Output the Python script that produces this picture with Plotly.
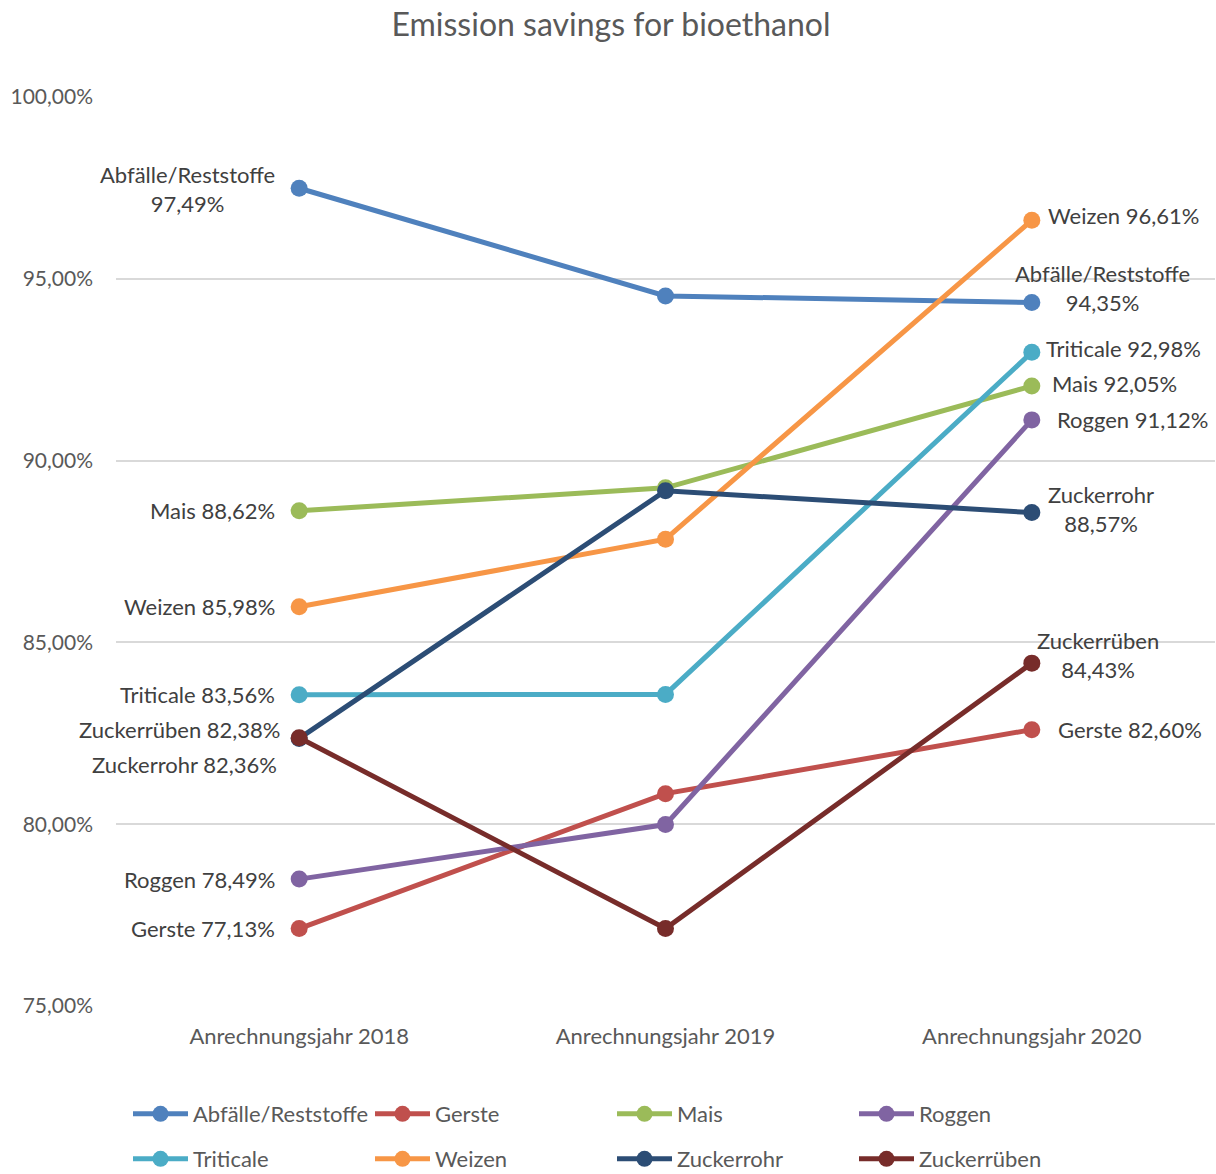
import plotly.graph_objects as go

categories = ["Anrechnungsjahr 2018", "Anrechnungsjahr 2019", "Anrechnungsjahr 2020"]

series_names = ["Abfälle/Reststoffe", "Gerste", "Mais", "Roggen",
                "Triticale", "Weizen", "Zuckerrohr", "Zuckerrüben"]

abfaelle = [97.49, 94.53, 94.35]
gerste = [77.13, 80.84, 82.60]
mais = [88.62, 89.25, 92.05]
roggen = [78.49, 79.99, 91.12]
triticale = [83.56, 83.57, 92.98]
weizen = [85.98, 87.84, 96.61]
zuckerrohr = [82.36, 89.17, 88.57]
zuckerrueben = [82.38, 77.13, 84.43]

y_tickvals = [75, 80, 85, 90, 95, 100]
y_ticktext = ["75,00%", "80,00%", "85,00%", "90,00%", "95,00%", "100,00%"]

values = [abfaelle, gerste, mais, roggen, triticale, weizen, zuckerrohr, zuckerrueben]
colors = ["#4F81BD", "#C0504D", "#9BBB59", "#8064A2",
          "#4BACC6", "#F79646", "#2C4D75", "#772C2A"]

FONT = "Lato, 'Open Sans', sans-serif"


def fmt(v):
    return f"{v:.2f}".replace(".", ",") + "%"


# label placement (style): (two_line, xanchor, xshift, yshift)
left_style = {
    "Abfälle/Reststoffe": (True, "right", -22, -1),
    "Gerste": (False, "right", -22, 0),
    "Mais": (False, "right", -22, 0),
    "Roggen": (False, "right", -22, 0),
    "Triticale": (False, "right", -22, 0),
    "Weizen": (False, "right", -22, 0),
    "Zuckerrohr": (False, "right", -20, -26),
    "Zuckerrüben": (False, "right", -17, 8),
}
right_style = {
    "Abfälle/Reststoffe": (True, "center", 71, 14),
    "Gerste": (False, "left", 24, 0),
    "Mais": (False, "left", 18, 3),
    "Roggen": (False, "left", 23, 0),
    "Triticale": (False, "left", 12, 4),
    "Weizen": (False, "left", 14, 5),
    "Zuckerrohr": (True, "center", 69, 4),
    "Zuckerrüben": (True, "center", 66, 8),
}

fig = go.Figure()
annotations = []
for i, (name, vals, col) in enumerate(zip(series_names, values, colors)):
    fig.add_trace(go.Scatter(
        x=categories, y=vals, name=name, mode="lines+markers",
        line=dict(color=col, width=5),
        marker=dict(color=col, size=17),
        legend="legend" if i < 4 else "legend2",
        cliponaxis=False,
    ))
    for idx, style in ((0, left_style), (2, right_style)):
        two, xa, xs, ys = style[name]
        sep = "<br>" if two else " "
        annotations.append(dict(
            x=categories[idx], y=vals[idx], xref="x", yref="y",
            text=f"{name}{sep}{fmt(vals[idx])}", showarrow=False,
            xanchor=xa, yanchor="middle", xshift=xs, yshift=ys,
            align="center", font=dict(family=FONT, size=22, color="#404040"),
        ))

W, Hfig = 1216, 1174
plot_top, plot_bottom = 97, 1006
legend_common = dict(
    orientation="h", xanchor="left", yanchor="middle",
    xref="container", yref="container",
    x=128 / W,
    font=dict(family=FONT, size=22, color="#595959"),
    entrywidth=172, entrywidthmode="pixels",
    bgcolor="rgba(0,0,0,0)", itemwidth=55,
)

fig.update_layout(
    width=W, height=Hfig,
    margin=dict(l=116, r=1, t=plot_top, b=Hfig - plot_bottom),
    paper_bgcolor="white", plot_bgcolor="white",
    title=dict(text="Emission savings for bioethanol", x=611 / W, xanchor="center",
               y=1 - 25 / Hfig, yanchor="middle", yref="container",
               font=dict(family=FONT, size=32, color="#595959")),
    xaxis=dict(showgrid=False, showline=False, ticks="",
               tickfont=dict(family=FONT, size=22, color="#595959"),
               ticklabelstandoff=15,
               range=[-0.5, 2.5], fixedrange=True),
    yaxis=dict(range=[75, 100], tickvals=y_tickvals, ticktext=y_ticktext,
               showgrid=True, gridcolor="#D9D9D9", gridwidth=2,
               zeroline=False, showline=False, ticks="",
               ticklabelstandoff=22,
               tickfont=dict(family=FONT, size=21, color="#595959")),
    legend=dict(y=1 - 1114 / Hfig, **legend_common),
    legend2=dict(y=1 - 1159 / Hfig, **legend_common),
    annotations=annotations,
    showlegend=True,
)

fig.write_html("out.html", config={"displayModeBar": False},
               post_script="document.body.style.margin='0';")
